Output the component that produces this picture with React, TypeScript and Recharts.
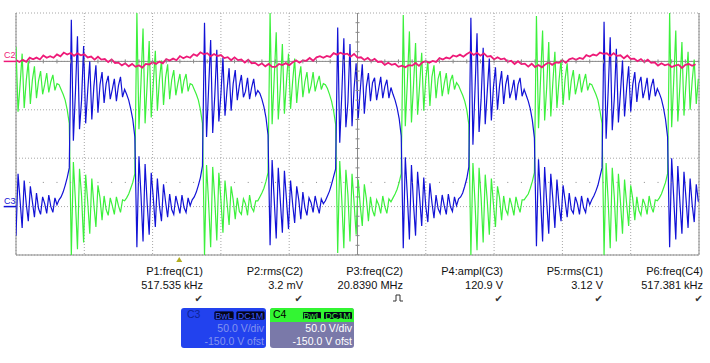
import { ComposedChart, Line, Scatter, XAxis, YAxis, CartesianGrid, ReferenceLine, ReferenceDot } from "recharts";

// record sample interval for C3 / C4, in µs
const STEP_US = 0.03;
// C2 is kept at a coarser interval
const C2_STEP_US = 0.05;

// C3 (blue), volts
const C3_V = [
  -30, 34, 6, -22, 27, 3, -15, 21, 5, -11, 14, -2, -8, 10, 3, -7, 12, 0, -6, 9, 2, 7, 10, 15, 22, 30,
  40, 193, 68, 118, 176, 80, 110, 166, 86, 120, 150, 90, 124, 146, 97, 126, 139, 107, 127, 135, 111, 121, 132, 109, 125, 134, 113, 121, 116, 110, 101, 90, 72, -42, 52, 12, -36, 44, 4, -29, 35, 9, -21, 29, 1, -15, 23, 5, -11, 13, -3, -8, 11, 2, -7, 12, -1, -6, 9, 1, 7, 10, 15, 22, 30,
  42, 190, 72, 122, 172, 76, 114, 162, 88, 116, 154, 94, 121, 143, 99, 127, 141, 110, 125, 136, 113, 119, 133, 111, 123, 132, 115, 120, 117, 111, 103, 92, 74, -40, 48, 8, -33, 40, 6, -27, 37, 7, -23, 27, 3, -17, 21, 7, -13, 15, -1, -9, 9, 4, -6, 11, 1, -7, 8, 3, 6, 11, 16, 23, 31,
  39, 185, 66, 116, 174, 82, 108, 168, 83, 122, 148, 91, 120, 147, 96, 124, 138, 109, 128, 133, 110, 122, 134, 112, 124, 131, 112, 123, 116, 110, 102, 91, 73, -43, 51, 11, -34, 43, 3, -30, 36, 9, -20, 30, 0, -16, 24, 4, -12, 12, -2, -7, 12, 1, -8, 13, 0, -5, 10, 1, 8, 10, 14, 21, 29,
  41, 195, 64, 120, 179, 77, 111, 164, 85, 119, 153, 89, 123, 144, 100, 125, 140, 106, 126, 136, 112, 120, 131, 110, 126, 133, 114, 121, 115, 109, 101, 89, 71, -41, 49, 10, -36, 41, 5, -28, 34, 8, -22, 28, 2, -15, 22, 6, -11, 14, -3, -7, 10, 3, -8, 11, -1, -6, 9, 2, 7, 11, 16, 22, 31,
  40, 191, 70, 119, 175, 79, 112, 163, 87, 118, 151, 93, 122, 145, 98, 126, 139, 108, 127, 134, 112, 121, 133, 110, 124, 132, 114, 122, 117, 111, 102, 90, 72, -42, 50, 9, -34, 42, 5, -28, 36, 8, -22, 29, 2, -16, 23, 5,
];

// C4 (green), volts
const C4_V = [
  165, 98, 126, 158, 102, 130, 150, 106, 131, 145, 112, 130, 140, 116, 126, 138, 118, 129, 136, 120, 127, 126, 121, 116, 110, 100,
  86, -50, 46, 6, -44, 39, 11, -37, 33, 5, -28, 29, 2, -21, 22, 9, -14, 11, -3, -9, 9, 1, -8, 10, 1, -6, 7, 6, 9, 13, 19, 25, 34, 200, 80, 128, 184, 86, 126, 171, 92, 127, 161, 99, 131, 151, 105, 133, 147, 111, 131, 141, 115, 127, 137, 117, 130, 137, 119, 127, 126, 121, 116, 110, 100,
  86, -50, 43, 4, -42, 41, 8, -35, 35, 7, -27, 27, 4, -19, 21, 7, -13, 9, -5, -8, 8, 3, -9, 12, -1, -5, 6, 6, 10, 14, 19, 26, 35, 200, 85, 132, 180, 90, 122, 168, 96, 129, 158, 101, 129, 153, 107, 131, 145, 113, 129, 139, 117, 125, 139, 119, 128, 135, 121, 127, 126, 122, 116, 109, 99,
  85, -48, 47, 7, -43, 38, 12, -36, 34, 4, -29, 28, 1, -20, 23, 8, -15, 10, -4, -10, 7, 2, -7, 11, 0, -7, 8, 5, 9, 13, 18, 25, 34, 198, 83, 129, 181, 87, 125, 169, 95, 126, 159, 99, 132, 150, 104, 134, 146, 112, 132, 140, 114, 127, 138, 116, 130, 136, 121, 128, 125, 120, 115, 109, 100,
  85, -50, 45, 5, -45, 40, 9, -37, 33, 6, -29, 29, 3, -21, 21, 9, -14, 11, -3, -8, 9, 1, -9, 10, 1, -6, 7, 7, 10, 13, 19, 26, 35, 197, 81, 131, 182, 89, 123, 170, 93, 128, 160, 102, 130, 152, 105, 132, 148, 110, 130, 141, 116, 126, 137, 118, 129, 137, 120, 127, 126, 121, 116, 110, 99,
  86, -50, 45, 6, -43, 40, 10, -36, 34, 5, -28, 28, 3, -20, 22, 8, -14, 10, -4, -9, 8, 2, -8, 11, 0, -6, 7, 6, 9, 13, 19, 25, 34, 200, 82, 130, 182, 88, 124, 170, 94, 128, 160, 100, 130, 152, 106, 132,
];

// C2 (pink), millivolts
const C2_MV = [
  1.4, -0.6, 1.6, -0.4, 3.8, 2.1, 3.9, 2, 6.1, 3.7, 5.3, 3.8, 7.2, 5.3, 9.1, 7.1, 8.7, 5.8, 8.3, 6.3,
  7.3, 4.1, 5, 1.8, 4.8, 1.8, 2.4, -0.7, 2.1, -1.6, -1.3, -4.1, -2, -5.1, -2.6, -5.6, -4.1, -6.3, -2.6, -3.2,
  -0.8, -2.6, -0.2, -2, 2.4, 0.9, 2.9, 1.2, 5.5, 3.3, 5.1, 3.8, 7.4, 5.7, 9.4, 7.4, 8.5, 5.2, 7.6, 5.6,
  6.6, 3.4, 4.4, 1.2, 4.2, 1.3, 1.9, -1.2, 1.7, -1.9, -1.5, -4.2, -2, -5.1, -2.6, -5.6,
  -5.7, -2.7, -3.8, -1.8, -4, -1, 1.2, -1.4, 1, 0.6, 3.5, 0.6, 4.2, 5.4, 3.8, 5.7, 4.6, 8.6, 7, 8.9,
  7.3, 8, 4.9, 7.7, 4, 4.3, 1.5, 3.6, 0.4, 2.7, -0.6, -0.1, -3.6, -1.4, -3.5, -2.5, -5.6, -4.4,
  -6.1, -3.9, -4.4, -1.6, -4.6, -1, 0.2, -1.4, 0.5, -0.6, 3.4, 1.9, 4, 2.9, 6.1, 5, 7, 4.8, 7.7, 9.7, 6.7,
  8.9, 5.9, 8.3, 5, 5.5, 2, 4.2, 2.1, 3, -0.3, 0.6, -2.7, 0.2, -2.8, -2.3, -5.4, -2.4, -5.8,
  -3.7, -6.1, -3.1, -0.9, -3.5, -1.1, -1.5, 1.4, -1.5, 2.1, 3.3, 1.7, 3.6, 2.5, 6.5, 5, 7.1, 6, 9.1, 7.8,
  8.4, 5.4, 8.5, 5.7, 6.3, 3.2, 6.1, 2.5, 2.9, 0.2, 2.4, -0.7, 1.7, -1.5, -0.9, -4.3, -2, -4, -2.9, -5.8, -4.4,
  -3.4, -6.8, -3.6, -2.7, -4.6, -3,
];

// screen grid: 1 µs/div, 50 V/div (C3/C4), 50 mV/div (C2)
const TIME_GRID_US = [0, 1, 2, 3, 4, 5, 6, 7, 8, 9, 10];
const VOLT_GRID = [-50, 0, 50, 100, 150, 200];
const TRIGGER_US = 2.39;

const MEAS_NAMES = ["P1:freq(C1)", "P2:rms(C2)", "P3:freq(C2)", "P4:ampl(C3)", "P5:rms(C1)", "P6:freq(C4)"];
const MEAS_VALUES = ["517.535 kHz", "3.2 mV", "20.8390 MHz", "120.9 V", "3.12 V", "517.381 kHz"];

const BLUE = "#1212d6";
const GREEN = "#3cf03c";
const PINK = "#ee1a78";
const AXIS = "#8a8a8a";
const GRID = "#a6a6a6";

function toSeries(values: number[], step: number) {
  return values.map((v, i) => ({ t: Math.round(i * step * 1000) / 1000, v }));
}

// minor tick marks of the graticule
const ticksOn150: { t: number; v: number }[] = [];
const ticksOn25: { t: number; v: number }[] = [];
for (let k = 0; k <= 50; k++) {
  ticksOn150.push({ t: k * 0.2, v: 150 });
  ticksOn25.push({ t: k * 0.2, v: 25 });
}
const ticksOnCenter: { t: number; v: number }[] = [];
for (let k = 0; k <= 25; k++) ticksOnCenter.push({ t: 5, v: -50 + k * 10 });

const vTick = (p: any) => <line x1={p.cx} x2={p.cx} y1={p.cy - 2} y2={p.cy + 2} stroke={AXIS} strokeWidth={1} />;
const hTick = (p: any) => <line x1={p.cx - 2} x2={p.cx + 2} y1={p.cy} y2={p.cy} stroke={AXIS} strokeWidth={1} />;
const dotTick = (p: any) => <rect x={p.cx - 0.5} y={p.cy - 0.5} width={1} height={1} fill={AXIS} />;

function Tag({ left, width, text, fg, border }: { left: number; width: number; text: string; fg: string; border: string }) {
  return (
    <div
      style={{
        position: "absolute",
        left,
        top: 3,
        width,
        height: 9,
        background: "#050518",
        border: `1px solid ${border}`,
        borderRadius: 2,
        boxSizing: "border-box",
        color: fg,
        fontSize: 9,
        lineHeight: "8px",
        textAlign: "center",
      }}
    >
      {text}
    </div>
  );
}

export default function App() {
  const c3 = toSeries(C3_V, STEP_US);
  const c4 = toSeries(C4_V, STEP_US);
  const c2 = toSeries(C2_MV, C2_STEP_US);

  const pulse = (
    <svg width={10} height={8} style={{ display: "inline-block" }}>
      <path d="M0,7 H3 V1 H7 V7 H10" stroke="#333" fill="none" strokeWidth={1} />
    </svg>
  );

  return (
    <div
      style={{
        position: "absolute",
        left: 0,
        top: 0,
        width: 710,
        height: 363,
        background: "#fff",
        overflow: "hidden",
        fontFamily: "'Liberation Sans', Arial, sans-serif",
      }}
    >
      <ComposedChart width={710} height={363} margin={{ top: 13, right: 11, bottom: 108, left: 16 }}>
        <XAxis type="number" dataKey="t" domain={[0, 10]} ticks={TIME_GRID_US} hide allowDataOverflow />
        <YAxis yAxisId="v" type="number" domain={[-50, 200]} ticks={VOLT_GRID} hide allowDataOverflow />
        <YAxis yAxisId="mv" type="number" domain={[-200, 50]} hide allowDataOverflow />
        <CartesianGrid yAxisId="v" stroke={GRID} strokeDasharray="1 2" />

        <ReferenceLine yAxisId="v" y={150} stroke={AXIS} />
        <ReferenceLine yAxisId="v" x={5} stroke={AXIS} />
        <ReferenceLine yAxisId="v" x={0} stroke={AXIS} />
        <ReferenceLine yAxisId="v" x={10} stroke={AXIS} />
        <ReferenceLine yAxisId="v" y={-50} stroke={AXIS} />

        <Scatter yAxisId="v" data={ticksOn150} dataKey="v" shape={vTick} isAnimationActive={false} />
        <Scatter yAxisId="v" data={ticksOn25} dataKey="v" shape={dotTick} isAnimationActive={false} />
        <Scatter yAxisId="v" data={ticksOnCenter} dataKey="v" shape={hTick} isAnimationActive={false} />

        <Line yAxisId="v" data={c4} dataKey="v" stroke={GREEN} strokeWidth={1.2} dot={false} activeDot={false} isAnimationActive={false} />
        <Line yAxisId="v" data={c3} dataKey="v" stroke={BLUE} strokeWidth={1.2} dot={false} activeDot={false} isAnimationActive={false} />
        <Line yAxisId="mv" data={c2} dataKey="v" stroke={PINK} strokeWidth={1.8} dot={false} activeDot={false} isAnimationActive={false} />

        {/* channel ground markers at the left edge */}
        <ReferenceLine yAxisId="v" segment={[{ x: -0.18, y: 0 }, { x: 0, y: 0 }]} stroke={BLUE} strokeWidth={1.5} ifOverflow="visible" />
        <ReferenceLine yAxisId="mv" segment={[{ x: -0.18, y: 0 }, { x: 0, y: 0 }]} stroke={PINK} strokeWidth={1.5} ifOverflow="visible" />

        <ReferenceDot
          yAxisId="v"
          x={TRIGGER_US}
          y={-50}
          ifOverflow="visible"
          shape={(p: any) => <path d={`M${p.cx - 3},${p.cy + 7} L${p.cx},${p.cy + 2} L${p.cx + 3},${p.cy + 7} Z`} fill="#b3ad1e" />}
        />
      </ComposedChart>

      <div style={{ position: "absolute", left: 4, top: 51, fontSize: 9, lineHeight: "9px", color: PINK }}>C2</div>
      <div style={{ position: "absolute", left: 4, top: 197, fontSize: 9, lineHeight: "9px", color: BLUE }}>C3</div>

      {MEAS_NAMES.map((name, i) => (
        <div
          key={name}
          style={{
            position: "absolute",
            left: 123 + i * 100,
            top: 265,
            width: 80,
            textAlign: "right",
            fontSize: 11,
            lineHeight: "13.5px",
            color: "#111",
          }}
        >
          <div>{name}</div>
          <div>{MEAS_VALUES[i]}</div>
          <div style={{ fontFamily: "'DejaVu Sans', sans-serif", fontSize: 10, height: 13, color: "#333" }}>
            {i === 2 ? pulse : "\u2714"}
          </div>
        </div>
      ))}

      {/* C3 descriptor box */}
      <div style={{ position: "absolute", left: 181, top: 308, width: 85, height: 40, background: "#2242ee", borderRadius: 3 }}>
        <div style={{ position: "absolute", left: 6, top: 0, fontSize: 10.5, lineHeight: "12px", color: "#0d2396" }}>C3</div>
        <Tag left={33} width={20} text="BwL" fg="#3b5bff" border="#0d1a70" />
        <Tag left={55} width={29} text="DC1M" fg="#3b5bff" border="#0d1a70" />
        <div style={{ position: "absolute", right: 2, top: 14, fontSize: 10.5, lineHeight: "13px", textAlign: "right", color: "#8294ee", whiteSpace: "nowrap" }}>
          50.0 V/div
          <br />
          -150.0 V ofst
        </div>
      </div>

      {/* C4 descriptor box */}
      <div style={{ position: "absolute", left: 270, top: 308, width: 84, height: 40, background: "#7a79a9", borderRadius: 3, overflow: "hidden" }}>
        <div style={{ position: "absolute", left: 0, top: 0, width: 84, height: 14, background: "#33f533" }} />
        <div style={{ position: "absolute", left: 3, top: 0, fontSize: 10.5, lineHeight: "12px", color: "#000" }}>C4</div>
        <Tag left={32} width={20} text="BwL" fg="#33f533" border="#33f533" />
        <Tag left={53} width={30} text="DC1M" fg="#33f533" border="#33f533" />
        <div style={{ position: "absolute", right: 2, top: 14, fontSize: 10.5, lineHeight: "13px", textAlign: "right", color: "#fff", whiteSpace: "nowrap" }}>
          50.0 V/div
          <br />
          -150.0 V ofst
        </div>
      </div>
    </div>
  );
}
